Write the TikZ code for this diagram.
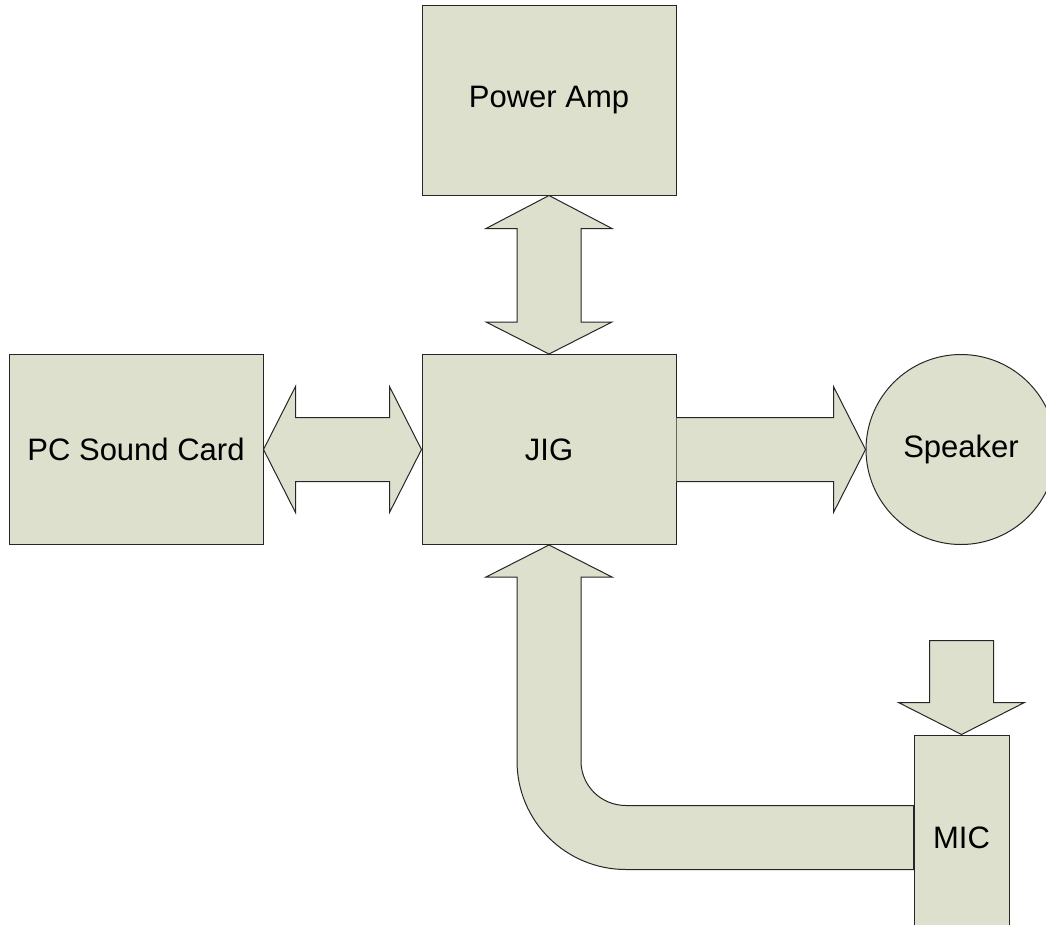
\documentclass[tikz,border=0pt]{standalone}
\usepackage{fontspec}
\setmainfont{Liberation Sans}
\usetikzlibrary{calc}
\definecolor{boxfill}{RGB}{221,224,204}
\begin{document}
\begin{tikzpicture}[x=1pt,y=-1pt,
  blk/.style={draw=black!85, fill=boxfill, line width=1pt, inner sep=0pt, font=\fontsize{31}{37}\selectfont},
  fat/.style={draw=black!85, fill=boxfill, line width=1pt, line join=miter}]
\useasboundingbox (0,0) rectangle (1046,924);
\clip (0,0) rectangle (1046,924);
% blocks
\node[blk, rectangle, minimum width=254pt, minimum height=190pt] (pamp) at (549,100) {Power Amp};
\node[blk, rectangle, minimum width=254pt, minimum height=190pt] (jig) at (549,449.5) {JIG};
\node[blk, rectangle, minimum width=254pt, minimum height=190pt] (pc) at (136,449.5) {PC Sound Card};
\node[blk, circle, minimum size=190pt] (spk) at (961,449.5) {Speaker};
\node[blk, rectangle, minimum width=95pt, minimum height=205pt] (mic) at (961.5,837.5) {MIC};
% Power Amp <-> JIG
\draw[fat] (pamp.south) -- ($(pamp.south)+(63,33)$) -- ($(pamp.south)+(32,33)$)
  -- ($(jig.north)+(32,-32)$) -- ($(jig.north)+(63,-32)$) -- (jig.north)
  -- ($(jig.north)+(-63,-32)$) -- ($(jig.north)+(-32,-32)$)
  -- ($(pamp.south)+(-32,33)$) -- ($(pamp.south)+(-63,33)$) -- cycle;
% PC <-> JIG
\draw[fat] (pc.east) -- ($(pc.east)+(32,-63)$) -- ($(pc.east)+(32,-32)$)
  -- ($(jig.west)+(-32,-32)$) -- ($(jig.west)+(-32,-63)$) -- (jig.west)
  -- ($(jig.west)+(-32,63)$) -- ($(jig.west)+(-32,32)$)
  -- ($(pc.east)+(32,32)$) -- ($(pc.east)+(32,63)$) -- cycle;
% JIG -> Speaker
\draw[fat] ($(jig.east)+(0,-32)$) -- ($(spk.west)+(-32,-32)$) -- ($(spk.west)+(-32,-63)$)
  -- (spk.west) -- ($(spk.west)+(-32,63)$) -- ($(spk.west)+(-32,32)$) -- ($(jig.east)+(0,32)$);
% arrow into MIC
\draw[fat] ($(mic.north)+(-32,-94)$) -- ($(mic.north)+(32,-94)$) -- ($(mic.north)+(32,-32)$)
  -- ($(mic.north)+(63,-32)$) -- (mic.north) -- ($(mic.north)+(-63,-32)$)
  -- ($(mic.north)+(-32,-32)$) -- cycle;
% MIC -> JIG bent arrow
\coordinate (B) at (jig.south |- mic.west);
\draw[fat] (jig.south) -- ($(jig.south)+(63,32)$) -- ($(jig.south)+(32,32)$)
  -- ($(B)+(32,-76.5)$) .. controls ($(B)+(32,-51.65)$) and ($(B)+(52.15,-32)$) .. ($(B)+(77,-32)$)
  -- ($(mic.west)+(0,-32)$) -- ($(mic.west)+(0,32)$) -- ($(B)+(77,32)$)
  .. controls ($(B)+(16.8,32)$) and ($(B)+(-32,-16.3)$) .. ($(B)+(-32,-76.5)$)
  -- ($(jig.south)+(-32,32)$) -- ($(jig.south)+(-63,32)$) -- cycle;
\end{tikzpicture}
\end{document}
